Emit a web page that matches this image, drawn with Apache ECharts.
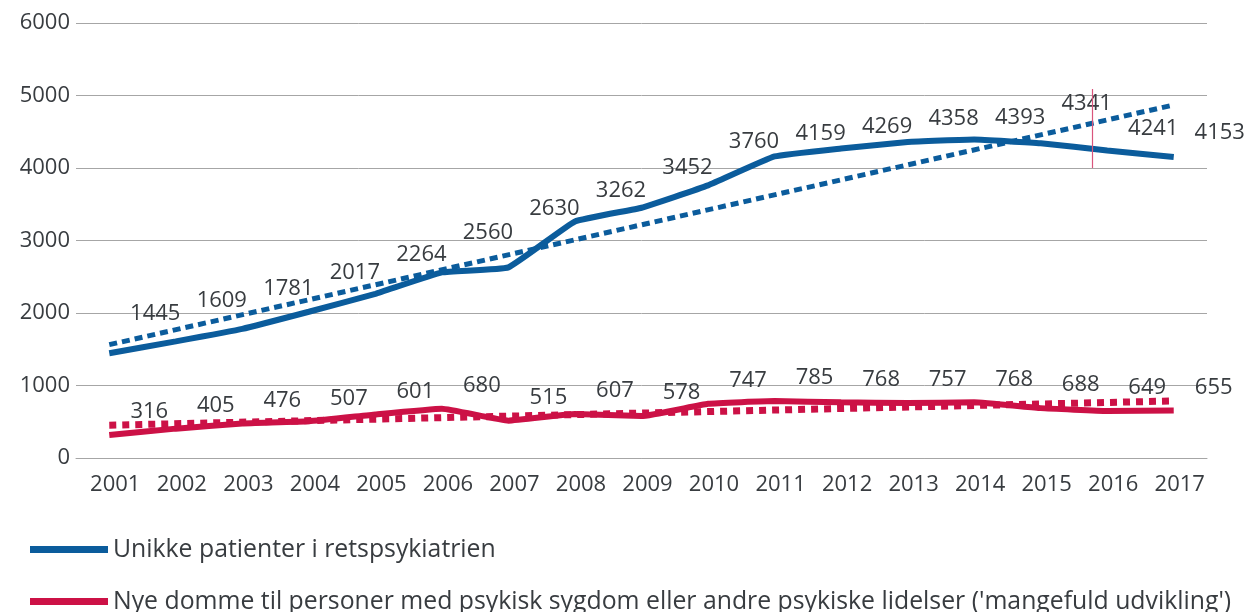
<!DOCTYPE html>
<html>
<head>
<meta charset="utf-8">
<script src="https://cdn.jsdelivr.net/npm/echarts@6/dist/echarts.min.js"></script>
<style>
html,body{margin:0;padding:0;background:#fff;}
#c{width:1252px;height:612px;}
</style>
</head>
<body>
<div id="c"></div>
<script>
const years = ['2001','2002','2003','2004','2005','2006','2007','2008','2009','2010','2011','2012','2013','2014','2015','2016','2017'];
const patients = [1445,1609,1781,2017,2264,2560,2630,3262,3452,3760,4159,4269,4358,4393,4341,4241,4153];
const sentences = [316,405,476,507,601,680,515,607,578,747,785,768,757,768,688,649,655];
// trend lines read at first and last year
const patientsTrend = [1563, 4870];
const sentencesTrend = [452, 787];
const seriesNames = ['Unikke patienter i retspsykiatrien', "Nye domme til personer med psykisk sygdom eller andre psykiske lidelser ('mangefuld udvikling')"];

// label layout (pixels above point) as in the reference
const patientsLabelLift = [40,41,40,39,39,40,59,31,40,44,23,22,23,22,40,22,24];

const BLUE = '#0b5c9c';
const RED = '#cc1146';
const TXT = '#383c40';
const FONT = 'Open Sans';
const NUM = 22;

function legendFor(name, top) {
  return {
    data: [name],
    orient: 'horizontal',
    left: 25, top: top,
    icon: 'rect',
    itemWidth: 78, itemHeight: 7,
    selectedMode: false,
    textStyle: {fontSize: 24.8, color: TXT, fontFamily: FONT, padding: [0,0,0,0]}
  };
}

const chart = echarts.init(document.getElementById('c'));
const option = {
  animation: false,
  textStyle: {fontFamily: FONT},
  grid: {left: 76, right: 45, top: 23, bottom: 154, containLabel: false},
  legend: [legendFor(seriesNames[0], 532), legendFor(seriesNames[1], 584)],
  xAxis: {
    type: 'category', data: years, boundaryGap: true,
    axisLine: {show: true, lineStyle: {color: '#a6a6a6', width: 1}},
    axisTick: {show: false},
    axisLabel: {color: TXT, fontSize: NUM, fontFamily: FONT, margin: 16, padding: [0,0,0,12]}
  },
  yAxis: {
    type: 'value', min: 0, max: 6000, interval: 1000,
    axisLine: {show: false}, axisTick: {show: false},
    splitLine: {lineStyle: {color: '#a6a6a6', width: 1}},
    axisLabel: {color: TXT, fontSize: NUM, fontFamily: FONT, margin: 6, formatter: v => String(v)}
  },
  series: [
    {
      name: seriesNames[0] + ' trend', type: 'line', z: 2,
      data: [[years[0], patientsTrend[0]], [years[years.length-1], patientsTrend[1]]],
      symbol: 'none', silent: true,
      lineStyle: {color: BLUE, width: 5, type: [8,5], cap: 'butt'}
    },
    {
      name: seriesNames[1] + ' trend', type: 'line', z: 2,
      data: [[years[0], sentencesTrend[0]], [years[years.length-1], sentencesTrend[1]]],
      symbol: 'none', silent: true,
      lineStyle: {color: RED, width: 7, type: [7,6], cap: 'butt'}
    },
    {
      name: seriesNames[0], type: 'line', z: 3, smooth: 0.1,
      data: patients.map((v,i) => ({value: v, label: {offset: [46, -patientsLabelLift[i]]}})),
      symbol: 'circle', symbolSize: 0,
      itemStyle: {color: BLUE},
      lineStyle: {color: BLUE, width: 6},
      label: {show: true, position: 'inside', color: TXT, fontSize: NUM, fontFamily: FONT}
    },
    {
      name: seriesNames[1], type: 'line', z: 3, smooth: 0.1,
      data: sentences,
      symbol: 'circle', symbolSize: 0,
      itemStyle: {color: RED},
      lineStyle: {color: RED, width: 6},
      label: {show: true, position: 'inside', offset: [40, -23], color: TXT, fontSize: NUM, fontFamily: FONT}
    }
  ]
};
chart.setOption(option);

// thin vertical marker between 2015 and 2016, as in the reference
const xa = chart.convertToPixel({xAxisIndex: 0}, '2015');
const xb = chart.convertToPixel({xAxisIndex: 0}, '2016');
const ya = chart.convertToPixel({yAxisIndex: 0}, 5090);
const yb = chart.convertToPixel({yAxisIndex: 0}, 4000);
const xm = Math.round(xa + 0.77 * (xb - xa)) + 0.5;
chart.setOption({graphic: [{type: 'line', shape: {x1: xm, y1: ya, x2: xm, y2: yb}, style: {stroke: '#d9557c', lineWidth: 1.2}, z: 10}]});
</script>
</body>
</html>
